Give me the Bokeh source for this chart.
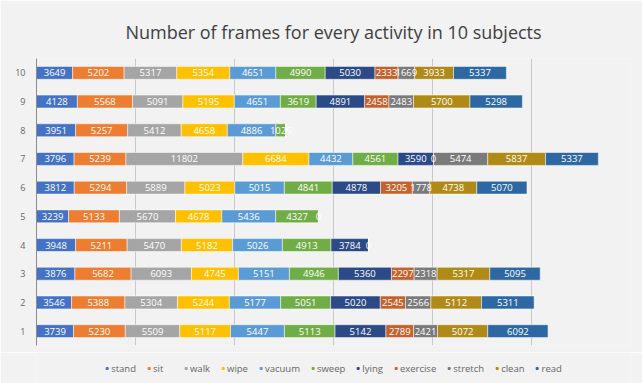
import numpy as np
from bokeh.plotting import figure
from bokeh.layouts import column
from bokeh.models import ColumnDataSource, Range1d, FactorRange, Legend, LegendItem
from bokeh.core.properties import value
from bokeh.embed import file_html
from bokeh.resources import INLINE

subjects = ["1", "2", "3", "4", "5", "6", "7", "8", "9", "10"]
activities = ["stand", "sit", "walk", "wipe", "vacuum", "sweep", "lying",
              "exercise", "stretch", "clean", "read"]

stand    = [3739, 3546, 3876, 3948, 3239, 3812, 3796, 3951, 4128, 3649]
sit      = [5230, 5388, 5682, 5211, 5133, 5294, 5239, 5257, 5568, 5202]
walk     = [5509, 5304, 6093, 5470, 5670, 5889, 11802, 5412, 5091, 5317]
wipe     = [5117, 5244, 4745, 5182, 4678, 5023, 6684, 4658, 5195, 5354]
vacuum   = [5447, 5177, 5151, 5026, 5436, 5015, 4432, 4886, 4651, 4651]
sweep    = [5113, 5051, 4946, 4913, 4327, 4841, 4561, 1026, 3619, 4990]
lying    = [5142, 5020, 5360, 3784, 0, 4878, 3590, 0, 4891, 5030]
exercise = [2789, 2545, 2297, 0, 0, 3205, 0, 0, 2458, 2333]
stretch  = [2421, 2566, 2318, 0, 0, 1778, 5474, 0, 2483, 1669]
clean    = [5072, 5112, 5317, 0, 0, 4738, 5837, 0, 5700, 3933]
read     = [6092, 5311, 5095, 0, 0, 5070, 5337, 0, 5298, 5337]

series = [stand, sit, walk, wipe, vacuum, sweep, lying, exercise, stretch, clean, read]
colors = ["#4472C4", "#ED7D31", "#A5A5A5", "#FFC000", "#5B9BD5", "#70AD47",
          "#2B4A86", "#C4622D", "#7A7A7A", "#B08A17", "#2D68A2"]

data = {"subject": subjects}
for name, vals in zip(activities, series):
    data[name] = vals
source = ColumnDataSource(data)

BG = "#F2F2F2"

p = figure(width=642, height=352, output_backend="svg", toolbar_location=None,
           y_range=FactorRange(*subjects, range_padding=0), x_range=Range1d(0, 60000),
           min_border_left=36, min_border_right=12, min_border_top=58, min_border_bottom=7)

p.title.text = "Number of frames for every activity in 10 subjects"
p.title.align = "center"
p.title.text_font = "Open Sans"
p.title.text_font_size = "18px"
p.title.text_font_style = "normal"
p.title.text_color = "#404040"
p.title.standoff = 30
p.border_fill_color = BG
p.background_fill_color = BG
p.outline_line_color = None

p.hbar_stack(activities, y="subject", height=0.45, color=colors,
             line_color="white", line_alpha=0.5, line_width=1, source=source)

# value labels
arr = np.array(series, dtype=float)
cum = np.cumsum(arr, axis=0)
lx, ly, lt = [], [], []
for i in range(len(activities)):
    for j in range(len(subjects)):
        v = arr[i, j]
        if v > 0:
            lx.append(cum[i, j] - v / 2)
            ly.append(subjects[j])
            lt.append(str(int(v)))
        elif i > 0 and arr[i - 1, j] >= 2000:
            lx.append(cum[i, j])
            ly.append(subjects[j])
            lt.append("0")
p.text(x=lx, y=ly, text=lt, text_align="center", text_baseline="middle",
       text_font=value("Open Sans"), text_font_size="9.5px", text_color="white")

p.xaxis.visible = False
p.xaxis.ticker = [10000, 20000, 30000, 40000, 50000]
p.xgrid.grid_line_color = "#C8C8C8"
p.ygrid.grid_line_color = None

p.yaxis.axis_line_color = "#8C8C8C"
p.yaxis.major_tick_line_color = None
p.yaxis.minor_tick_line_color = None
p.yaxis.major_tick_out = 0
p.yaxis.major_tick_in = 0
p.yaxis.major_label_text_font = "Open Sans"
p.yaxis.major_label_text_font_size = "9px"
p.yaxis.major_label_text_color = "#666666"
p.yaxis.major_label_standoff = 11

# legend strip
lp = figure(width=642, height=31, output_backend="svg", toolbar_location=None,
            x_range=Range1d(0, 1), y_range=Range1d(0, 1),
            min_border_left=0, min_border_right=0, min_border_top=0, min_border_bottom=0)
lp.axis.visible = False
lp.grid.visible = False
lp.outline_line_color = None
lp.border_fill_color = BG
lp.background_fill_color = BG
items = []
for a, c in zip(activities, colors):
    r = lp.scatter(x=[-5], y=[-5], marker="square", size=5, color=c)
    items.append(LegendItem(label=a, renderers=[r]))
legend = Legend(items=items, orientation="horizontal", location="center",
                label_text_font="Open Sans", label_text_font_size="9.5px",
                label_text_color="#666666", glyph_width=5, glyph_height=5,
                spacing=10, label_standoff=2, padding=0, margin=0,
                background_fill_alpha=0, border_line_color=None)
lp.add_layout(legend, "center")

layout = column(p, lp, spacing=0)
open("out.html", "w").write(file_html(layout, INLINE))
